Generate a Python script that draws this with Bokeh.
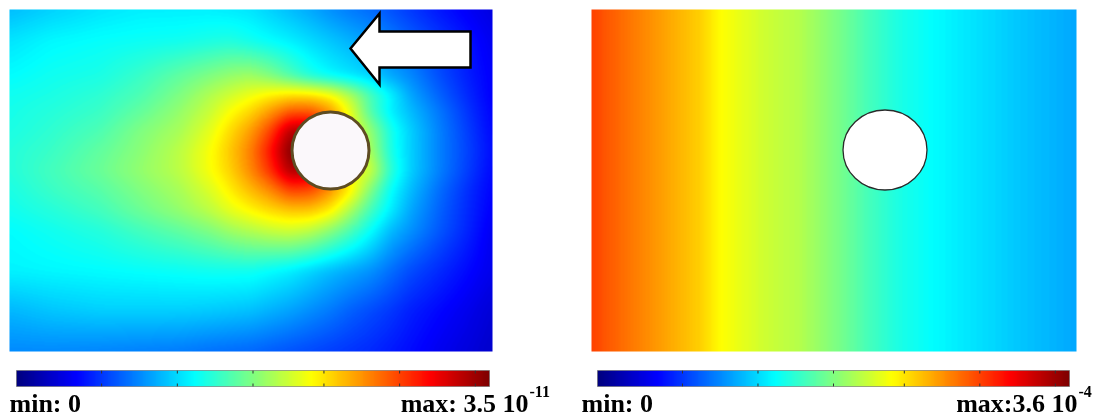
import numpy as np
from bokeh.plotting import figure
from bokeh.models import Range1d, LinearColorMapper
from bokeh.embed import file_html
from bokeh.resources import INLINE
from bokeh.core.properties import value

# ---------------- data ----------------
# Left field: relative concentration (fraction of max 3.5e-11), sampled on a mesh
# mesh coordinates: pixels from the top-left corner of the domain (483 x 342)
left_mesh_x = [0, 41, 91, 131, 171, 201, 221, 241, 261, 281, 301, 321, 341, 361, 381, 401, 431, 461, 483]
left_mesh_y = [0, 31, 66, 86, 101, 121, 141, 161, 181, 201, 221, 261, 301, 342]
left_conc = [
    [0.31, 0.33, 0.35, 0.36, 0.36, 0.36, 0.355, 0.35, 0.33, 0.31, 0.29, 0.265, 0.245, 0.23, 0.205, 0.18, 0.145, 0.115, 0.095],
    [0.35, 0.37, 0.38, 0.385, 0.39, 0.40, 0.405, 0.39, 0.375, 0.36, 0.34, 0.32, 0.30, 0.28, 0.25, 0.22, 0.18, 0.14, 0.11],
    [0.375, 0.39, 0.40, 0.43, 0.47, 0.50, 0.52, 0.53, 0.50, 0.45, 0.40, 0.37, 0.35, 0.33, 0.29, 0.26, 0.20, 0.15, 0.12],
    [0.39, 0.40, 0.42, 0.45, 0.50, 0.55, 0.58, 0.61, 0.64, 0.66, 0.66, 0.63, 0.55, 0.45, 0.37, 0.29, 0.22, 0.16, 0.12],
    [0.395, 0.41, 0.43, 0.47, 0.52, 0.57, 0.62, 0.66, 0.72, 0.78, 0.78, 0.72, 0.60, 0.45, 0.36, 0.31, 0.24, 0.17, 0.125],
    [0.40, 0.42, 0.45, 0.50, 0.54, 0.60, 0.66, 0.72, 0.81, 0.95, 0.95, 0.80, 0.62, 0.52, 0.40, 0.33, 0.25, 0.18, 0.13],
    [0.41, 0.43, 0.47, 0.51, 0.56, 0.62, 0.68, 0.75, 0.86, 1.00, 0.98, 0.78, 0.60, 0.54, 0.40, 0.33, 0.25, 0.185, 0.135],
    [0.41, 0.44, 0.48, 0.52, 0.56, 0.62, 0.67, 0.74, 0.83, 0.96, 0.94, 0.76, 0.62, 0.58, 0.42, 0.33, 0.25, 0.18, 0.13],
    [0.40, 0.43, 0.46, 0.50, 0.54, 0.59, 0.64, 0.69, 0.74, 0.81, 0.80, 0.73, 0.64, 0.50, 0.38, 0.31, 0.23, 0.165, 0.125],
    [0.39, 0.41, 0.44, 0.48, 0.52, 0.56, 0.60, 0.63, 0.66, 0.68, 0.68, 0.64, 0.54, 0.44, 0.36, 0.29, 0.22, 0.16, 0.12],
    [0.375, 0.39, 0.41, 0.44, 0.47, 0.50, 0.53, 0.55, 0.57, 0.58, 0.56, 0.51, 0.45, 0.38, 0.31, 0.27, 0.21, 0.155, 0.11],
    [0.365, 0.37, 0.375, 0.38, 0.385, 0.39, 0.39, 0.39, 0.375, 0.36, 0.335, 0.31, 0.29, 0.27, 0.235, 0.20, 0.165, 0.13, 0.105],
    [0.305, 0.32, 0.33, 0.33, 0.33, 0.325, 0.32, 0.315, 0.30, 0.285, 0.265, 0.245, 0.22, 0.20, 0.18, 0.155, 0.13, 0.105, 0.085],
    [0.26, 0.26, 0.255, 0.25, 0.245, 0.235, 0.23, 0.225, 0.215, 0.205, 0.195, 0.185, 0.175, 0.165, 0.15, 0.135, 0.11, 0.09, 0.075],
]
left_max_label = "max: 3.5 10"
left_max_exp = "-11"

# Right field: relative value (fraction of max 3.6e-4), varies along x only
right_mesh_x = [0, 29, 69, 109, 129, 169, 209, 249, 279, 309, 349, 389, 429, 485]
right_val = [0.81, 0.77, 0.72, 0.67, 0.625, 0.58, 0.55, 0.49, 0.44, 0.40, 0.37, 0.345, 0.32, 0.29]
right_max_label = "max:3.6 10"
right_max_exp = "-4"
min_label = "min: 0"

# colorbar tick fractions
cbar_ticks = [0.18, 0.34, 0.50, 0.65, 0.81, 0.97]

# ---------------- layout constants (page pixels) ----------------
W_PAGE, H_PAGE = 1101, 418
L_X0, L_Y0, L_W, L_H = 9, 9, 483, 342
R_X0, R_Y0, R_W, R_H = 591, 9, 485, 342
CB_Y0, CB_H = 370, 16
LCB_X0, LCB_W = 16, 473
RCB_X0, RCB_W = 597, 472
TXT_BASE = 403
SUP_BASE = 391
SMOOTH = 5.0   # display smoothing (px) of the sampled field


def Y(py):
    return H_PAGE - py


def jet(n=256):
    v = np.linspace(0, 1, n)
    r = np.interp(v, [0, .375, .625, .875, 1], [0, 0, 1, 1, .5])
    g = np.interp(v, [0, .125, .375, .625, .875, 1], [0, 0, 1, 1, 0, 0])
    b = np.interp(v, [0, .125, .375, .625, 1], [.5, 1, 1, 0, 0])
    return ["#%02x%02x%02x" % (int(round(a * 255)), int(round(c * 255)), int(round(d * 255)))
            for a, c, d in zip(r, g, b)]


palette = jet()
mapper = LinearColorMapper(palette=palette, low=0, high=1)


def blur(a, s):
    r = int(3 * s)
    k = np.exp(-0.5 * (np.arange(-r, r + 1) / s) ** 2)
    k /= k.sum()
    pa = np.pad(a, ((0, 0), (r, r)), mode="edge")
    a = np.array([np.convolve(row, k, mode="valid") for row in pa])
    pa = np.pad(a, ((r, r), (0, 0)), mode="edge")
    a = np.array([np.convolve(col, k, mode="valid") for col in pa.T]).T
    return a


def resample(mx, my, vals, W, H):
    vals = np.asarray(vals, dtype=float)
    gx = np.arange(W) + 0.5
    gy = np.arange(H) + 0.5
    tmp = np.array([np.interp(gx, mx, row) for row in vals])
    out = np.array([np.interp(gy, my, tmp[:, j]) for j in range(W)]).T
    return blur(out, SMOOTH)


p = figure(width=W_PAGE, height=H_PAGE, x_range=Range1d(0, W_PAGE), y_range=Range1d(0, H_PAGE),
           output_backend="svg", toolbar_location=None, min_border=0,
           styles={"position": "fixed", "left": "0px", "top": "0px"})
p.axis.visible = False
p.grid.visible = False
p.outline_line_color = None
p.background_fill_color = "white"
p.border_fill_color = "white"

# left field
left_img = resample(left_mesh_x, left_mesh_y, left_conc, L_W, L_H)[::-1]
p.image(image=[left_img], x=L_X0, y=Y(L_Y0 + L_H), dw=L_W, dh=L_H, color_mapper=mapper)

# right field
right_row = np.interp(np.arange(R_W) + 0.5, right_mesh_x, right_val)
right_img = np.tile(right_row, (R_H, 1))
p.image(image=[right_img], x=R_X0, y=Y(R_Y0 + R_H), dw=R_W, dh=R_H, color_mapper=mapper)

# obstacles
p.ellipse(x=[330], y=[Y(150)], width=77, height=77, fill_color="#fbf8fb",
          line_color="#5e4c22", line_width=3)
p.ellipse(x=[884.5], y=[Y(149.5)], width=84, height=80, fill_color="white",
          line_color="#2a2a2a", line_width=1.3)

# flow arrow
ax = [350, 379, 379, 470, 470, 379, 379]
ay = [48, 13, 31, 31, 67, 67, 84]
p.patch(x=ax, y=[Y(v) for v in ay], fill_color="white", line_color="black", line_width=2.5,
        line_join="miter")

# colorbars
grad = np.linspace(0, 1, 512)[None, :]
for x0, w in [(LCB_X0, LCB_W), (RCB_X0, RCB_W)]:
    p.image(image=[grad], x=x0, y=Y(CB_Y0 + CB_H), dw=w, dh=CB_H, color_mapper=mapper)
    tx = [x0 + f * w for f in cbar_ticks]
    p.segment(x0=tx, y0=[Y(CB_Y0)] * len(tx), x1=tx, y1=[Y(CB_Y0 + 3)] * len(tx),
              line_color="#333333", line_width=1)
    p.segment(x0=tx, y0=[Y(CB_Y0 + CB_H)] * len(tx), x1=tx, y1=[Y(CB_Y0 + CB_H - 3)] * len(tx),
              line_color="#333333", line_width=1)
    p.rect(x=[x0 + w / 2], y=[Y(CB_Y0 + CB_H / 2)], width=w, height=CB_H, fill_color=None,
           line_color="#666666", line_width=0.6)

FONT = value("Liberation Serif")
common = dict(text_font=FONT, text_font_style="bold", text_color="black", text_baseline="alphabetic")
p.text(x=[9, 581], y=[Y(TXT_BASE)] * 2, text=[min_label, min_label], text_font_size="26px",
       text_align="left", **common)
p.text(x=[528, 1077], y=[Y(TXT_BASE)] * 2, text=[left_max_label, right_max_label], text_font_size="26px",
       text_align="right", **common)
p.text(x=[529, 1078], y=[Y(SUP_BASE)] * 2, text=[left_max_exp, right_max_exp], text_font_size="16px",
       text_align="left", **common)

open("out.html", "w").write(file_html(p, INLINE))
